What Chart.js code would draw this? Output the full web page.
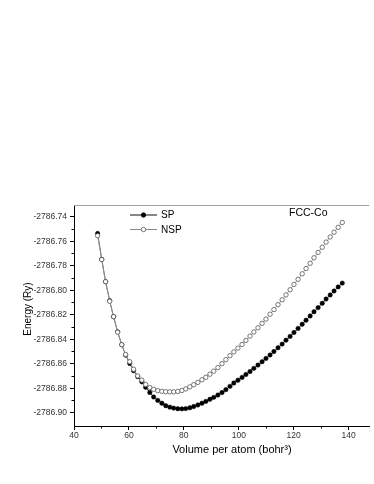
<!DOCTYPE html>
<html><head><meta charset="utf-8">
<script src="https://cdn.jsdelivr.net/npm/chart.js@4.4.0/dist/chart.umd.min.js"></script>
<style>html,body{margin:0;padding:0;background:#fff;}canvas{display:block;}</style>
</head><body>
<canvas id="c" width="374" height="484"></canvas>
<script>
const volumes = [48.6,50.1,51.5,53.0,54.4,55.9,57.4,58.8,60.3,61.7,63.2,64.7,66.1,67.6,69.0,70.5,72.0,73.4,74.9,76.3,77.8,79.3,80.7,82.2,83.6,85.1,86.6,88.0,89.5,90.9,92.4,93.9,95.3,96.8,98.2,99.7,101.2,102.6,104.1,105.5,107.0,108.5,109.9,111.4,112.8,114.3,115.8,117.2,118.7,120.1,121.6,123.1,124.5,126.0,127.4,128.9,130.4,131.8,133.3,134.7,136.2,137.7];
const energySP = [-2786.7536,-2786.7748,-2786.7930,-2786.8085,-2786.8216,-2786.8340,-2786.8445,-2786.8530,-2786.8598,-2786.8657,-2786.8706,-2786.8748,-2786.8792,-2786.8835,-2786.8872,-2786.8900,-2786.8923,-2786.8943,-2786.8955,-2786.8963,-2786.8968,-2786.8969,-2786.8967,-2786.8960,-2786.8950,-2786.8937,-2786.8923,-2786.8908,-2786.8891,-2786.8875,-2786.8856,-2786.8836,-2786.8812,-2786.8785,-2786.8758,-2786.8735,-2786.8712,-2786.8688,-2786.8664,-2786.8638,-2786.8611,-2786.8584,-2786.8557,-2786.8529,-2786.8501,-2786.8470,-2786.8440,-2786.8408,-2786.8377,-2786.8345,-2786.8312,-2786.8278,-2786.8245,-2786.8210,-2786.8176,-2786.8142,-2786.8107,-2786.8072,-2786.8039,-2786.8006,-2786.7973,-2786.7942];
const energyNSP = [-2786.7555,-2786.7750,-2786.7930,-2786.8090,-2786.8216,-2786.8343,-2786.8445,-2786.8525,-2786.8584,-2786.8645,-2786.8700,-2786.8734,-2786.8770,-2786.8795,-2786.8810,-2786.8820,-2786.8826,-2786.8829,-2786.8830,-2786.8830,-2786.8827,-2786.8819,-2786.8806,-2786.8789,-2786.8772,-2786.8753,-2786.8731,-2786.8711,-2786.8686,-2786.8661,-2786.8632,-2786.8600,-2786.8567,-2786.8535,-2786.8504,-2786.8473,-2786.8443,-2786.8410,-2786.8375,-2786.8341,-2786.8307,-2786.8271,-2786.8236,-2786.8196,-2786.8158,-2786.8118,-2786.8078,-2786.8038,-2786.7996,-2786.7952,-2786.7911,-2786.7866,-2786.7823,-2786.7780,-2786.7735,-2786.7691,-2786.7649,-2786.7607,-2786.7565,-2786.7526,-2786.7486,-2786.7447];
const seriesNames = ['SP', 'NSP'];
const xTicks = [40, 60, 80, 100, 120, 140];
const xMinorTicks = [50, 70, 90, 110, 130];
const yTicks = [-2786.74, -2786.76, -2786.78, -2786.80, -2786.82, -2786.84, -2786.86, -2786.88, -2786.90];
const yMinorTicks = [-2786.75, -2786.77, -2786.79, -2786.81, -2786.83, -2786.85, -2786.87, -2786.89];
const panelLabel = 'FCC-Co';
const xTitle = 'Volume per atom (bohr\u00B3)';
const yTitle = 'Energy (Ry)';

const FONT = '"Liberation Sans", Arial, sans-serif';

const decor = {
  id: 'decor',
  afterDraw(chart) {
    const ctx = chart.ctx;
    const ca = chart.chartArea;
    const xs = chart.scales.x, ys = chart.scales.y;
    ctx.save();
    // top frame line
    ctx.strokeStyle = '#a0a0a0';
    ctx.lineWidth = 1;
    ctx.beginPath();
    ctx.moveTo(ca.left, ca.top + 0.5);
    ctx.lineTo(ca.right, ca.top + 0.5);
    ctx.stroke();
    // minor ticks
    ctx.strokeStyle = '#000';
    ctx.beginPath();
    xMinorTicks.forEach(v => {
      const px = Math.round(xs.getPixelForValue(v)) + 0.5;
      ctx.moveTo(px, ca.bottom);
      ctx.lineTo(px, ca.bottom + 2.5);
    });
    yMinorTicks.forEach(v => {
      const py = Math.round(ys.getPixelForValue(v)) + 0.5;
      ctx.moveTo(ca.left, py);
      ctx.lineTo(ca.left - 2.5, py);
    });
    ctx.stroke();
    // legend
    const rows = [
      {name: seriesNames[0], y: 215, line: '#111', fill: '#000', stroke: '#000'},
      {name: seriesNames[1], y: 229.5, line: '#888', fill: '#fff', stroke: '#555'}
    ];
    ctx.font = '10px ' + FONT;
    ctx.textBaseline = 'middle';
    ctx.textAlign = 'left';
    rows.forEach(r => {
      ctx.strokeStyle = r.line;
      ctx.lineWidth = 1;
      ctx.beginPath();
      ctx.moveTo(130, r.y);
      ctx.lineTo(157, r.y);
      ctx.stroke();
      ctx.beginPath();
      ctx.arc(143.5, r.y, 2.2, 0, Math.PI * 2);
      ctx.fillStyle = r.fill;
      ctx.fill();
      ctx.strokeStyle = r.stroke;
      ctx.lineWidth = 0.8;
      ctx.stroke();
      ctx.fillStyle = '#000';
      ctx.fillText(r.name, 161, r.y + 0.5);
    });
    // panel label
    ctx.font = '10.5px ' + FONT;
    ctx.fillText(panelLabel, 289, 213.5);
    // axis titles
    ctx.font = '11px ' + FONT;
    ctx.textAlign = 'center';
    ctx.fillText(xTitle, 232, 450);
    ctx.translate(28.5, 309);
    ctx.rotate(-Math.PI / 2);
    ctx.font = '10px ' + FONT;
    ctx.fillText(yTitle, 0, 0);
    ctx.restore();
  }
};

Chart.defaults.font.family = FONT;

new Chart(document.getElementById('c'), {
  type: 'line',
  data: {
    datasets: [
      {
        label: seriesNames[1],
        data: volumes.map((v, i) => ({x: v, y: energyNSP[i]})),
        borderColor: '#999',
        borderWidth: 0.8,
        pointRadius: 2.2,
        pointBackgroundColor: '#fff',
        pointBorderColor: '#555',
        pointBorderWidth: 0.8,
        fill: false,
        tension: 0,
        order: 0
      },
      {
        label: seriesNames[0],
        data: volumes.map((v, i) => ({x: v, y: energySP[i]})),
        borderColor: '#222',
        borderWidth: 0.8,
        pointRadius: 2.2,
        pointBackgroundColor: '#000',
        pointBorderColor: '#000',
        pointBorderWidth: 0.5,
        fill: false,
        tension: 0,
        order: 1
      }
    ]
  },
  options: {
    responsive: false,
    animation: false,
    devicePixelRatio: 1,
    layout: {padding: {top: 205, left: 0, right: 0, bottom: 0}},
    plugins: {legend: {display: false}, tooltip: {enabled: false}},
    scales: {
      x: {
        type: 'linear',
        min: 40,
        max: 147.5,
        afterBuildTicks: s => { s.ticks = xTicks.map(v => ({value: v})); },
        afterFit: s => { s.height = 58; },
        border: {display: true, color: '#000', width: 1},
        grid: {display: true, drawOnChartArea: false, drawTicks: true, tickLength: 4, color: '#000'},
        ticks: {font: {size: 8.5}, color: '#333', padding: 1, maxRotation: 0, autoSkip: false}
      },
      y: {
        type: 'linear',
        min: -2786.9109,
        max: -2786.7304,
        afterBuildTicks: s => { s.ticks = yTicks.map(v => ({value: v})); },
        afterFit: s => { s.width = 74; },
        border: {display: true, color: '#000', width: 1},
        grid: {display: true, drawOnChartArea: false, drawTicks: true, tickLength: 4, color: '#000'},
        ticks: {font: {size: 8.5}, color: '#333', padding: 3, autoSkip: false,
          callback: v => Number(v).toFixed(2)}
      }
    }
  },
  plugins: [decor]
});
</script>
</body></html>
